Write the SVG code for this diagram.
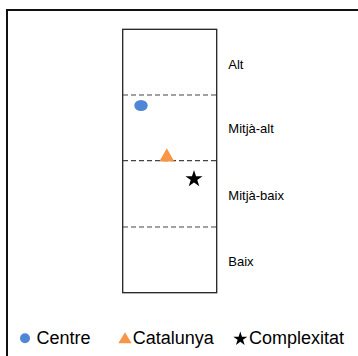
<svg xmlns="http://www.w3.org/2000/svg" width="358" height="356" viewBox="0 0 358 356">
  <style>
    .lbl { font-family: "Liberation Sans", Arial, sans-serif; font-size: 13px; fill: #000; }
    .leg { font-family: "Liberation Sans", Arial, sans-serif; font-size: 18px; fill: #000; }
    .dash { stroke: #444; stroke-width: 1.2; stroke-dasharray: 5 3; fill: none; }
    .blue { fill: #4F86D6; }
    .orange { fill: #F79646; }
  </style>
  <defs>
    <path id="star" d="M0,-10 L2.245,-3.09 L9.511,-3.09 L3.633,1.18 L5.878,8.09 L0,3.82 L-5.878,8.09 L-3.633,1.18 L-9.511,-3.09 L-2.245,-3.09 Z" fill="#000"/>
  </defs>
  <rect width="358" height="356" fill="#fff"/>
  <g id="frame">
    <path d="M7,357 V10 H359" fill="none" stroke="#111" stroke-width="2"/>
  </g>
  <g id="column">
    <rect x="122.7" y="29.3" width="94" height="263.4" fill="none" stroke="#222" stroke-width="1.3"/>
  </g>
  <g id="connectors">
    <line class="dash" x1="123" y1="95" x2="216.5" y2="95"/>
    <line class="dash" x1="123" y1="160.7" x2="216.5" y2="160.7"/>
    <line class="dash" x1="123" y1="227" x2="216.5" y2="227"/>
  </g>
  <g id="levels">
    <text class="lbl" x="228.3" y="68.5">Alt</text>
    <text class="lbl" x="228.3" y="133.3">Mitjà-alt</text>
    <text class="lbl" x="228.3" y="200">Mitjà-baix</text>
    <text class="lbl" x="228.3" y="265.7">Baix</text>
  </g>
  <g id="centre">
    <ellipse class="blue" cx="141" cy="105.5" rx="6.7" ry="5.6"/>
  </g>
  <g id="catalunya">
    <polygon class="orange" points="159.3,161.5 174.3,161.5 166.8,148.3"/>
  </g>
  <g id="complexitat">
    <use href="#star" transform="translate(194,179) scale(0.9)"/>
  </g>
  <g id="legend">
    <circle class="blue" cx="25" cy="338.3" r="5"/>
    <text class="leg" x="36.5" y="343.5">Centre</text>
    <polygon class="orange" points="118.3,343.3 131.7,343.3 125,332.3"/>
    <text class="leg" x="132.7" y="343.5">Catalunya</text>
    <use href="#star" transform="translate(240.3,339) scale(0.74)"/>
    <text class="leg" x="249" y="343.5">Complexitat</text>
  </g>
</svg>
